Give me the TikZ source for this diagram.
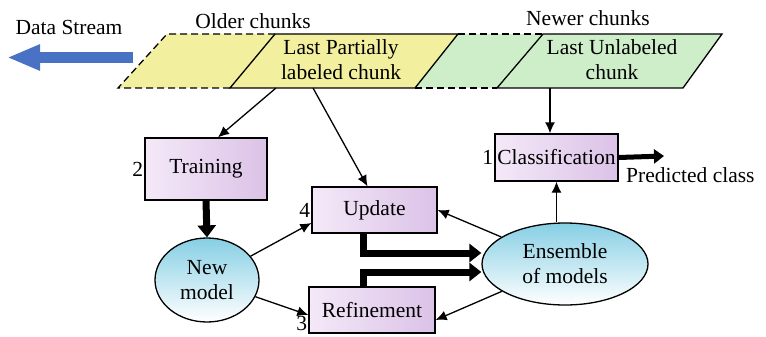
\documentclass[tikz,border=0pt]{standalone}
\usepackage{fontspec}
\setmainfont{Liberation Serif}
\usetikzlibrary{arrows.meta,shapes.geometric}

\definecolor{olderfill}{HTML}{F2EF9E}
\definecolor{newerfill}{HTML}{CDEEC9}
\definecolor{boxleft}{HTML}{F4E9F8}
\definecolor{boxright}{HTML}{DBC2E7}
\definecolor{modeltop}{HTML}{86CFE4}
\definecolor{streamblue}{HTML}{4A72C4}

\begin{document}
\begin{tikzpicture}[x=1pt,y=-1pt]
\tikzstyle{every node}=[font=\fontsize{21.5}{25}\selectfont, inner sep=1pt]
\tikzstyle{stepbox}=[draw, rectangle, line width=1.3pt, left color=boxleft, right color=boxright]
\tikzstyle{model}=[draw, ellipse, line width=1.3pt, top color=modeltop, bottom color=white, align=center]
\tikzstyle{thin arrow}=[line width=1.3pt, -{Latex[length=11pt,width=10pt]}]
\tikzstyle{fat arrow}=[line width=7pt, -{Triangle[length=12pt,width=18pt]}]
\tikzstyle{chunk edge}=[line width=1.3pt, dash pattern=on 7pt off 4pt]
\useasboundingbox (0,0) rectangle (766,337);

% chunks of the stream
\fill[olderfill] (118,88) -- (167,34) -- (458,34) -- (415,88) -- cycle;
\fill[newerfill] (415,88) -- (458,34) -- (722,34) -- (683,88) -- cycle;
\draw[chunk edge] (275,34) -- (167,34) -- (118,88) -- (230,88);
\draw[chunk edge] (458,34) -- (543,34);
\draw[chunk edge] (415,88) -- (497,88);
\draw[line width=1.3pt] (230,88) -- (275,34) -- (458,34) -- (415,88) -- cycle;
\draw[line width=1.3pt] (497,88) -- (543,34) -- (722,34) -- (683,88) -- cycle;

\node (lpc) [align=center] at (341,60) {Last Partially\\labeled chunk};
\node (luc) [align=center] at (612,60) {Last Unlabeled\\chunk};
\node (older) at (253,21) {Older chunks};
\node (newer) at (588,18) {Newer chunks};
\node (ds) at (69,27) {Data Stream};

\coordinate (ds tail) at (133,57.5);
\coordinate (ds tip) at (7,57.5);
\draw[streamblue, line width=11pt, -{Triangle[length=33pt,width=24pt]}] (ds tail) -- (ds tip);

\coordinate (lpc a) at (276,88);
\coordinate (lpc b) at (313,88);
\coordinate (luc a) at (550,88);

% steps
\node (train) [stepbox, minimum width=122pt, minimum height=62pt] at (206,169) {Training};
\node (upd) [stepbox, minimum width=125pt, minimum height=46pt] at (374.5,210) {Update};
\node (ref) [stepbox, minimum width=126pt, minimum height=46pt] at (372,310) {Refinement};
\node (cls) [stepbox, minimum width=123pt, minimum height=47pt] at (556.5,157.5) {Classification};
\node (new) [model, minimum width=104pt, minimum height=84pt] at (207,280) {New\\model};
\node (ens) [model, minimum width=166pt, minimum height=82pt] at (565,264) {Ensemble\\of models};

\node [left] at (train.west) {2};
\node [left] at (upd.west) {4};
\node [left] at ([yshift=-13pt]ref.west) {3};
\node [left] at (cls.west) {1};

\coordinate (pc end) at (664,156);
\node (pc) [anchor=west] at (625,175) {Predicted class};

% connectors
\draw[thin arrow] (lpc a) -- ([xshift=12pt]train.north);
\draw[thin arrow] (lpc b) -- ([xshift=-7pt]upd.north);
\draw[thin arrow] (luc a) -- ([xshift=-6.5pt]cls.north);
\draw[thin arrow] (new) -- ([yshift=-13pt]upd.west);
\draw[thin arrow] (new) -- ([yshift=-5pt]ref.west);
\draw[thin arrow] (ens) -- (upd.east);
\draw[thin arrow] (ens) -- ([yshift=-10pt]ref.east);
\draw[thin arrow] (ens.north -| cls) -- (cls.south);
\draw[fat arrow] (train.south) -- (new.north);
\draw[fat arrow] ([xshift=-11pt]upd.south) |- ([yshift=11pt]ens.west);
\draw[fat arrow] ([xshift=-9pt]ref.north) |- ([yshift=-8pt]ens.west);
\draw[line width=5pt, -{Triangle[length=10pt,width=14pt]}] (cls.east) -- (pc end);
\end{tikzpicture}
\end{document}
